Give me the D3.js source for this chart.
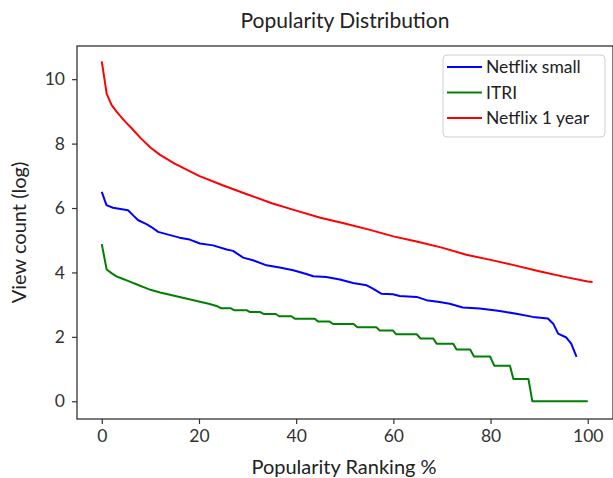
<!DOCTYPE html>
<html>
<head>
<meta charset="utf-8">
<script src="https://cdn.jsdelivr.net/npm/d3@7"></script>
<style>
  body { margin: 0; background: #fff; }
  text { font-family: Lato, "Open Sans", sans-serif; fill: #222; }
</style>
</head>
<body>
<div id="chart"></div>
<script>
'use strict'
// values (x = popularity ranking %, y = view count log)
let xTicks = [0, 20, 40, 60, 80, 100];
let yTicks = [0, 2, 4, 6, 8, 10];
let seriesNames = ['Netflix small', 'ITRI', 'Netflix 1 year'];
let seriesColors = ['#0000ff', '#008000', '#ff0000'];

let smallX = [0, 0.96, 2.3, 5.4, 6.4, 7.5, 9.2, 10.2, 11.6, 13.3, 16, 18.1, 20.2, 22.9, 25.7, 27, 29.1, 31.1, 33.9, 36.6, 39.4, 42.1, 43.5, 46.2, 49, 51.7, 54.5, 55.8, 57.5, 59.9, 61.3, 64.8, 66.8, 69.5, 71.6, 74.3, 77.8, 81.9, 85.3, 88.7, 91.8, 92.9, 93.9, 95.6, 96.6, 97.7];
let smallY = [6.5, 6.09, 6.01, 5.93, 5.78, 5.62, 5.5, 5.41, 5.26, 5.19, 5.08, 5.02, 4.9, 4.84, 4.71, 4.67, 4.46, 4.38, 4.22, 4.15, 4.07, 3.95, 3.88, 3.86, 3.78, 3.67, 3.6, 3.5, 3.34, 3.32, 3.27, 3.24, 3.14, 3.08, 3.03, 2.91, 2.88, 2.8, 2.72, 2.62, 2.57, 2.41, 2.1, 1.98, 1.79, 1.38];

let itriX = [0, 1, 2, 3, 4, 5, 6, 7, 8, 9, 10, 12, 14, 16, 18, 20, 22, 23.8, 24.5, 26.5, 27.2, 29.8, 30.5, 32.6, 33.3, 35.8, 36.5, 39, 39.8, 43.8, 44.5, 46.8, 47.6, 51.8, 52.6, 56.5, 57.2, 59.9, 60.6, 64.8, 65.6, 68.2, 68.9, 72.3, 73, 75.8, 76.6, 79.9, 80.8, 84, 84.7, 87.8, 88.6, 100];
let itriY = [4.88, 4.09, 3.98, 3.88, 3.82, 3.76, 3.7, 3.64, 3.58, 3.52, 3.46, 3.38, 3.31, 3.24, 3.17, 3.1, 3.03, 2.95, 2.89, 2.89, 2.83, 2.83, 2.77, 2.77, 2.71, 2.71, 2.64, 2.64, 2.56, 2.56, 2.48, 2.48, 2.4, 2.4, 2.3, 2.3, 2.2, 2.2, 2.08, 2.08, 1.95, 1.95, 1.79, 1.79, 1.61, 1.61, 1.39, 1.39, 1.1, 1.1, 0.69, 0.69, 0, 0];

let yearX = [0, 1, 2, 3, 4, 5, 6, 8, 10, 12, 15, 20, 25, 30, 35, 40, 45, 50, 55, 60, 65, 70, 75, 80, 85, 90, 95, 100, 101];
let yearY = [10.55, 9.55, 9.2, 9.0, 8.82, 8.65, 8.5, 8.17, 7.88, 7.65, 7.38, 7.0, 6.7, 6.42, 6.15, 5.92, 5.7, 5.52, 5.33, 5.12, 4.95, 4.77, 4.55, 4.39, 4.22, 4.04, 3.87, 3.72, 3.7];

let W = 613, H = 478;
let margin = {top: 46, right: 0, bottom: 59, left: 77};
let width = W - margin.left - margin.right
  , height = H - margin.top - margin.bottom;

let svg = d3.select('#chart')
  .append('svg')
  .attr('width', W)
  .attr('height', H);

let x = d3.scaleLinear().domain([-5.1, 105.2]).range([0, width]);
let y = d3.scaleLinear().domain([-0.55, 11.03]).range([height, 0]);

let g = svg.append('g')
  .attr('transform', 'translate(' + margin.left + ',' + margin.top + ')');

g.append('clipPath').attr('id', 'clip')
  .append('rect').attr('width', width).attr('height', height);

// lines
let series = [[smallX, smallY], [itriX, itriY], [yearX, yearY]];
let line = d3.line().x(function(d) { return x(d[0]); }).y(function(d) { return y(d[1]); });
series.forEach(function(s, i) {
  g.append('path')
    .datum(d3.zip(s[0], s[1]))
    .attr('clip-path', 'url(#clip)')
    .attr('fill', 'none')
    .attr('stroke', seriesColors[i])
    .attr('stroke-width', 2)
    .attr('stroke-linejoin', 'round')
    .attr('d', line);
});

// axes
let xAxis = d3.axisBottom(x).tickValues(xTicks).tickSize(5).tickPadding(6).tickSizeOuter(0);
let yAxis = d3.axisLeft(y).tickValues(yTicks).tickSize(5).tickPadding(7).tickSizeOuter(0);
let xg = g.append('g').attr('transform', 'translate(0,' + height + ')').call(xAxis);
let yg = g.append('g').call(yAxis);
[xg, yg].forEach(function(a) {
  a.select('.domain').remove();
  a.selectAll('line').attr('stroke', '#333').attr('stroke-width', 1.2);
  a.selectAll('text').attr('font-size', 17.5).attr('font-family', null).style('fill', '#333');
});

// frame
g.append('rect')
  .attr('width', width).attr('height', height)
  .attr('fill', 'none').attr('stroke', '#333').attr('stroke-width', 1.3);

// titles
svg.append('text').attr('x', 345).attr('y', 28)
  .attr('text-anchor', 'middle').attr('font-size', 21)
  .text('Popularity Distribution');
svg.append('text').attr('x', 344).attr('y', 474)
  .attr('text-anchor', 'middle').attr('font-size', 20)
  .text('Popularity Ranking %');
svg.append('text')
  .attr('transform', 'translate(26,' + (margin.top + height / 2) + ') rotate(-90)')
  .attr('text-anchor', 'middle').attr('font-size', 20)
  .text('View count (log)');

// legend
let legend = svg.append('g').attr('transform', 'translate(443,55)');
legend.append('rect')
  .attr('width', 162).attr('height', 82).attr('rx', 4)
  .attr('fill', '#fff').attr('stroke', '#d0d0d0');
seriesNames.forEach(function(name, i) {
  let ly = 12 + i * 25.5;
  legend.append('line')
    .attr('x1', 4).attr('x2', 39).attr('y1', ly).attr('y2', ly)
    .attr('stroke', seriesColors[i]).attr('stroke-width', 2);
  legend.append('text')
    .attr('x', 43).attr('y', ly).attr('dy', '0.35em')
    .attr('font-size', 17.5)
    .text(name);
});
</script>
</body>
</html>
